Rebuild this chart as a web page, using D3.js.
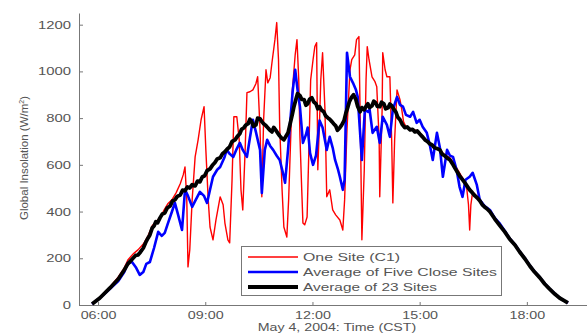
<!DOCTYPE html>
<html>
<head>
<meta charset="utf-8">
<script src="https://cdn.jsdelivr.net/npm/d3@7"></script>
<style>
  html, body { margin: 0; padding: 0; background: #fff; }
  svg { display: block; font-family: Arial, 'Liberation Sans', Helvetica, sans-serif; }
</style>
</head>
<body>
<div id="chart"></div>
<script>
// ---- data (time of day, W/m^2) ----
const tickLabels = ['06:00', '09:00', '12:00', '15:00', '18:00'];
const yTicks = [0, 200, 400, 600, 800, 1000, 1200];

const oneSiteTime = ['05:50','06:03','06:20','06:34','06:44','06:50','06:59','07:07','07:16','07:24','07:31','07:37','07:44','07:51','07:57','08:04','08:11','08:18','08:23','08:26','08:29','08:31','08:34','08:38','08:43','08:48','08:53','08:58','09:01','09:05','09:08','09:13','09:18','09:25','09:30','09:33','09:38','09:41','09:45','09:48','09:53','09:57','10:00','10:03','10:07','10:10','10:15','10:20','10:25','10:28','10:32','10:35','10:38','10:42','10:45','10:49','10:52','10:57','11:00','11:03','11:05','11:09','11:12','11:17','11:20','11:26','11:31','11:34','11:37','11:39','11:42','11:44','11:47','11:51','11:54','11:57','12:01','12:04','12:07','12:09','12:12','12:14','12:17','12:21','12:24','12:29','12:34','12:39','12:46','12:51','12:54','12:58','13:03','13:06','13:11','13:14','13:18','13:21','13:23','13:27','13:30','13:32','13:35','13:40','13:45','13:48','13:52','13:53','13:57','13:58','14:02','14:05','14:10','14:13','14:15','14:18','14:22','14:27','14:30','14:33','14:38','14:44','14:52','15:00','15:09','15:17','15:25','15:34','15:42','15:51','15:59','16:07','16:14','16:19','16:22','16:24','16:26','16:29','16:36','16:41','16:49','16:58','17:06','17:15','17:23','17:31','17:40','17:48','17:57','18:05','18:13','18:22','18:30','18:38','18:47','18:55','19:04','19:09'];
const oneSiteValue = [4,34,77,120,159,193,219,236,261,296,339,356,373,407,433,450,480,519,557,591,450,163,236,450,634,707,793,849,664,450,334,279,364,463,429,351,279,266,536,806,806,707,493,407,664,909,913,921,947,977,750,463,793,1007,951,973,1037,1136,1209,1050,763,493,334,291,450,909,1071,1136,964,720,493,351,343,377,664,964,1050,1106,1123,579,793,964,1080,836,463,493,407,386,364,321,450,750,1007,1050,1071,1136,1149,664,279,579,964,1106,1050,977,956,934,707,463,836,1080,1007,977,977,707,437,707,921,879,836,784,759,750,750,737,711,694,677,664,643,630,600,566,536,501,429,321,429,484,467,450,424,403,373,343,317,287,261,231,201,171,145,118,92,71,49,32,18,9];

const fiveSiteTime = ['05:50','06:03','06:20','06:34','06:44','06:50','06:57','07:04','07:10','07:16','07:21','07:27','07:34','07:41','07:47','07:52','07:57','08:04','08:09','08:14','08:21','08:26','08:31','08:38','08:44','08:51','08:58','09:03','09:08','09:13','09:20','09:25','09:32','09:36','09:41','09:47','09:52','09:58','10:03','10:10','10:15','10:20','10:25','10:32','10:35','10:40','10:44','10:49','10:54','11:00','11:05','11:10','11:14','11:19','11:22','11:27','11:31','11:36','11:39','11:44','11:49','11:52','11:56','12:01','12:06','12:12','12:17','12:24','12:29','12:34','12:38','12:43','12:46','12:51','12:54','12:58','13:03','13:08','13:13','13:16','13:23','13:28','13:33','13:36','13:41','13:48','13:53','13:58','14:05','14:10','14:15','14:22','14:27','14:32','14:37','14:44','14:49','14:55','15:00','15:05','15:12','15:17','15:22','15:29','15:34','15:39','15:46','15:51','15:56','16:02','16:07','16:12','16:17','16:24','16:29','16:36','16:41','16:49','16:58','17:06','17:15','17:23','17:31','17:40','17:48','17:57','18:05','18:13','18:22','18:30','18:38','18:47','18:55','19:04','19:09'];
const fiveSiteValue = [4,30,69,103,141,180,184,159,129,141,176,184,244,313,296,309,347,399,437,390,321,493,467,420,450,484,467,437,493,549,579,591,630,664,647,634,664,694,664,634,716,793,741,664,480,664,707,681,664,639,621,570,523,664,763,921,1007,900,849,694,729,760,650,600,640,790,760,664,720,673,621,579,549,493,536,1080,977,951,921,891,621,836,827,836,737,763,694,806,771,720,836,891,857,849,814,806,827,780,793,763,737,686,621,737,673,549,664,639,634,579,506,463,536,549,566,514,450,424,407,373,347,317,285,259,229,199,169,143,118,92,70,48,31,17,9];

const allSiteTime = ['05:50','06:03','06:20','06:34','06:44','06:50',
  '06:59','07:03','07:07','07:11','07:16','07:20','07:24','07:27','07:31','07:34',
  '07:37','07:40','07:44','07:48','07:52','07:56','08:01','08:05','08:09','08:13',
  '08:18','08:22','08:26','08:30','08:34','08:38','08:43','08:47','08:51','08:55',
  '08:59','09:03','09:08','09:12','09:16','09:20','09:25','09:29','09:33','09:37',
  '09:41','09:45','09:50','09:54','09:58','10:01','10:05','10:08','10:12','10:15',
  '10:18','10:21','10:25','10:28','10:32','10:35','10:38','10:41','10:45','10:48',
  '10:52','10:55','10:59','11:02','11:05','11:08','11:12','11:15','11:19','11:22',
  '11:26','11:29','11:32','11:35','11:39','11:42','11:46','11:49','11:52','11:55',
  '11:59','12:02','12:06','12:09','12:12','12:15','12:19','12:22','12:26','12:29',
  '12:33','12:36','12:39','12:42','12:46','12:49','12:53','12:56','12:59','13:02',
  '13:06','13:09','13:13','13:16','13:20','13:23','13:27','13:30','13:33','13:36',
  '13:40','13:43','13:46','13:49','13:53','13:56','14:00','14:03','14:07','14:10',
  '14:13','14:16','14:20','14:23','14:27','14:31','14:35','14:39','14:44','14:48',
  '14:52','14:56','15:00','15:04','15:09','15:13','15:17','15:21','15:25','15:29',
  '15:34','15:38','15:42','15:46','15:51','15:55','15:59','16:03','16:07','16:11',
  '16:16','16:20','16:24','16:28','16:33','16:37','16:41','16:45','16:49','16:53','16:58',
  '17:06','17:15','17:23','17:31','17:40','17:48','17:57','18:05','18:13','18:22','18:30','18:38','18:47','18:55','19:04','19:09'];
const allSiteValue = [4,30,73,111,150,176,
  201,212,214,226,244,268,287,300,330,338,
  356,352,373,390,394,415,424,445,450,465,
  471,492,489,505,501,515,510,530,527,548,
  553,575,583,598,609,625,630,648,656,668,
  677,700,707,722,733,752,759,770,776,795,
  784,765,771,800,797,785,776,770,759,750,
  741,760,746,735,724,715,707,720,737,770,
  814,850,879,905,896,880,879,855,861,880,
  887,870,861,840,849,835,827,810,801,795,
  784,775,767,748,759,770,789,820,844,870,
  891,900,879,850,827,845,836,850,861,845,
  853,872,866,850,849,868,861,840,844,860,
  853,840,827,805,793,772,759,762,750,752,
  741,745,733,722,707,700,690,685,673,670,
  664,645,639,630,621,605,587,570,553,540,
  523,508,493,482,467,458,446,430,420,412,399,
  369,339,313,283,257,227,197,167,141,116,90,69,47,30,17,9];

const seriesNames = ['One Site (C1)', 'Average of Five Close Sites', 'Average of 23 Sites'];
// --------------------------------------------------------

const W = 587, H = 334;
const parse = d3.timeParse('%H:%M');
const textColor = '#555';
const axisColor = '#777';

const svg = d3.select('#chart').append('svg')
  .attr('width', W)
  .attr('height', H);

const x = d3.scaleTime().domain([parse('05:28'), parse('19:41')]).range([79, 587]);
const y = d3.scaleLinear().domain([0, 1250]).range([305, 13]);

// stretch text horizontally like the scanned figure
function widen(sel, k) {
  sel.each(function () {
    const w = this.getComputedTextLength();
    d3.select(this).attr('textLength', w * k).attr('lengthAdjust', 'spacingAndGlyphs');
  });
}

const xAxis = d3.axisBottom(x)
  .tickValues(tickLabels.map(parse))
  .tickFormat(d3.timeFormat('%H:%M'))
  .tickSizeInner(-3).tickSizeOuter(0).tickPadding(6);
const yAxis = d3.axisLeft(y)
  .tickValues(yTicks)
  .tickFormat(d3.format('d'))
  .tickSizeInner(-4).tickSizeOuter(0).tickPadding(8);

const gx = svg.append('g').attr('transform', 'translate(0,305)').call(xAxis);
const gy = svg.append('g').attr('transform', 'translate(79,0)').call(yAxis);
[gx, gy].forEach(g => {
  g.select('.domain').attr('stroke', axisColor);
  g.selectAll('.tick line').attr('stroke', axisColor);
  g.selectAll('.tick text').attr('fill', textColor).style('font-size', '11px');
});
widen(gx.selectAll('.tick text'), 1.3);
widen(gy.selectAll('.tick text'), 1.35);

// axis titles
const xl = svg.append('text')
  .attr('x', 337).attr('y', 331)
  .attr('text-anchor', 'middle')
  .attr('fill', textColor)
  .style('font-size', '11px')
  .text('May 4, 2004: Time (CST)');
widen(xl, 1.29);

const yl = svg.append('text')
  .attr('transform', 'translate(28,158) rotate(-90)')
  .attr('text-anchor', 'middle')
  .attr('fill', textColor)
  .style('font-size', '11.5px');
yl.append('tspan').text('Global Insolation (W/m');
yl.append('tspan').attr('dy', -4).style('font-size', '7px').text('2');
yl.append('tspan').attr('dy', 4).text(')');

// lines
const line = d3.line()
  .x(d => x(parse(d[0])))
  .y(d => y(d[1]));

const series = [
  { name: seriesNames[0], data: d3.zip(oneSiteTime, oneSiteValue), color: '#f00', width: 1.4 },
  { name: seriesNames[1], data: d3.zip(fiveSiteTime, fiveSiteValue), color: '#00f', width: 2.6 },
  { name: seriesNames[2], data: d3.zip(allSiteTime, allSiteValue), color: '#000', width: 3.8 }
];

svg.append('g').selectAll('path')
  .data(series)
  .join('path')
  .attr('fill', 'none')
  .attr('stroke', d => d.color)
  .attr('stroke-width', d => d.width)
  .attr('stroke-linejoin', 'round')
  .attr('d', d => line(d.data));

// legend
const legend = svg.append('g');
legend.append('rect')
  .attr('x', 241.5).attr('y', 246.5)
  .attr('width', 260).attr('height', 49)
  .attr('fill', '#fff').attr('stroke', axisColor);

const legendWidths = [97, 194, 134];
const items = legend.selectAll('g.item')
  .data(series)
  .join('g')
  .attr('class', 'item')
  .attr('transform', (d, i) => 'translate(0,' + (257 + i * 15) + ')');
items.append('line')
  .attr('x1', 248).attr('x2', 298)
  .attr('stroke', d => d.color)
  .attr('stroke-width', d => d.width);
items.append('text')
  .attr('x', 303).attr('y', 4)
  .attr('fill', textColor)
  .style('font-size', '11px')
  .attr('textLength', (d, i) => legendWidths[i])
  .attr('lengthAdjust', 'spacingAndGlyphs')
  .text(d => d.name);
</script>
</body>
</html>
